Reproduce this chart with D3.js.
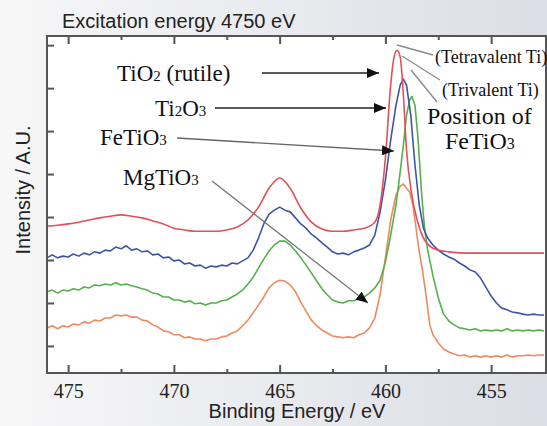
<!DOCTYPE html>
<html>
<head>
<meta charset="utf-8">
<script src="https://cdn.jsdelivr.net/npm/d3@7"></script>
<style>
  html, body { margin: 0; padding: 0; background: #eceef2; }
  svg { display: block; }
</style>
</head>
<body>
<div id="chart"></div>
<script>
// tick values
const xMajorTicks = [475, 470, 465, 460, 455];
const xMinorTicks = [472.5, 467.5, 462.5, 457.5];
const yTicks = [0, 1, 2, 3, 4, 5, 6, 7];

// spectra: [binding energy (eV), intensity (A.U.)]
const tio2 = [[476,2.79],[475.5,2.81],[475,2.84],[474.5,2.88],[474,2.93],[473.5,2.98],[473,3.02],[472.5,3.05],[472,3.02],[471.5,2.98],[471,2.91],[470.5,2.84],[470,2.74],[469.5,2.70],[469,2.67],[468.5,2.67],[468,2.67],[467.5,2.70],[467,2.77],[466.5,2.93],[466,3.23],[465.5,3.67],[465,3.91],[464.5,3.67],[464,3.21],[463.5,2.88],[463,2.72],[462.5,2.67],[462,2.67],[461.5,2.70],[461,2.74],[460.5,2.88],[460.25,3.28],[460,4.37],[459.75,6.07],[459.6,6.70],[459.45,6.88],[459.3,6.72],[459.15,5.84],[459,4.56],[458.75,3.51],[458.5,2.93],[458.25,2.56],[458,2.37],[457.5,2.23],[457,2.19],[456,2.16],[455,2.16],[454,2.16],[453,2.16],[452.5,2.16]];

const ti2o3 = [[476,2.05],[475.75,2.12],[475.5,2.05],[475.25,2.09],[475,2.07],[474.75,2.14],[474.5,2.09],[474.25,2.16],[474,2.12],[473.75,2.19],[473.5,2.16],[473.25,2.23],[473,2.21],[472.75,2.30],[472.5,2.26],[472.25,2.33],[472,2.23],[471.75,2.26],[471.5,2.19],[471.25,2.21],[471,2.12],[470.75,2.14],[470.5,2.05],[470.25,2.07],[470,1.98],[469.75,2.00],[469.5,1.91],[469.25,1.93],[469,1.86],[468.75,1.88],[468.5,1.81],[468.25,1.86],[468,1.84],[467.75,1.88],[467.5,1.86],[467.25,1.93],[467,1.91],[466.75,1.98],[466.5,2.05],[466.25,2.23],[466,2.51],[465.75,2.84],[465.5,3.07],[465.25,3.16],[465,3.23],[464.75,3.16],[464.5,3.12],[464.25,2.98],[464,2.84],[463.75,2.74],[463.5,2.60],[463.25,2.51],[463,2.40],[462.75,2.30],[462.5,2.19],[462.25,2.14],[462,2.16],[461.75,2.12],[461.5,2.19],[461.25,2.23],[461,2.28],[460.75,2.35],[460.5,2.58],[460.25,3.12],[460,3.86],[459.75,4.79],[459.5,5.60],[459.3,6.07],[459.15,6.21],[459,6.07],[458.8,5.37],[458.6,4.21],[458.4,3.28],[458.2,2.74],[458,2.51],[457.75,2.35],[457.5,2.23],[457.25,2.14],[457,2.07],[456.75,2.02],[456.5,1.93],[456.25,1.86],[456,1.77],[455.75,1.72],[455.5,1.58],[455.25,1.37],[455,1.16],[454.75,1.00],[454.5,0.88],[454.25,0.84],[454,0.79],[453.75,0.77],[453.5,0.74],[453.25,0.72],[453,0.74],[452.75,0.72],[452.5,0.72]];

const fetio3 = [[476,1.26],[475.75,1.30],[475.5,1.23],[475.25,1.30],[475,1.28],[474.75,1.33],[474.5,1.30],[474.25,1.37],[474,1.35],[473.75,1.42],[473.5,1.40],[473.25,1.44],[473,1.42],[472.75,1.47],[472.5,1.42],[472.25,1.44],[472,1.40],[471.75,1.37],[471.5,1.33],[471.25,1.30],[471,1.23],[470.75,1.21],[470.5,1.14],[470.25,1.14],[470,1.07],[469.75,1.07],[469.5,1.02],[469.25,1.05],[469,0.98],[468.75,1.00],[468.5,0.95],[468.25,1.00],[468,1.00],[467.75,1.05],[467.5,1.07],[467.25,1.14],[467,1.21],[466.75,1.30],[466.5,1.44],[466.25,1.60],[466,1.81],[465.75,2.02],[465.5,2.21],[465.25,2.35],[465,2.44],[464.75,2.44],[464.5,2.35],[464.25,2.21],[464,2.05],[463.75,1.88],[463.5,1.70],[463.25,1.51],[463,1.33],[462.75,1.19],[462.5,1.07],[462.25,1.02],[462,1.00],[461.75,1.05],[461.5,1.05],[461.25,1.09],[461,1.14],[460.75,1.23],[460.5,1.35],[460.25,1.53],[460,1.95],[459.75,2.58],[459.5,3.28],[459.3,4.05],[459.15,4.67],[459,5.37],[458.85,5.72],[458.75,5.81],[458.6,5.60],[458.45,4.79],[458.3,3.63],[458.15,2.74],[458,2.23],[457.75,1.63],[457.5,1.12],[457.25,0.74],[457,0.58],[456.75,0.49],[456.5,0.42],[456.25,0.40],[456,0.37],[455.75,0.40],[455.5,0.35],[455.25,0.37],[455,0.35],[454.75,0.37],[454.5,0.35],[454.25,0.40],[454,0.35],[453.75,0.37],[453.5,0.35],[453.25,0.37],[453,0.35],[452.75,0.37],[452.5,0.35]];

const mgtio3 = [[476,0.42],[475.75,0.47],[475.5,0.40],[475.25,0.47],[475,0.44],[474.75,0.51],[474.5,0.49],[474.25,0.56],[474,0.53],[473.75,0.60],[473.5,0.58],[473.25,0.65],[473,0.65],[472.75,0.72],[472.5,0.70],[472.25,0.72],[472,0.67],[471.75,0.67],[471.5,0.60],[471.25,0.58],[471,0.49],[470.75,0.44],[470.5,0.35],[470.25,0.33],[470,0.26],[469.75,0.26],[469.5,0.19],[469.25,0.21],[469,0.16],[468.75,0.16],[468.5,0.12],[468.25,0.16],[468,0.16],[467.75,0.21],[467.5,0.23],[467.25,0.30],[467,0.35],[466.75,0.47],[466.5,0.60],[466.25,0.77],[466,0.95],[465.75,1.14],[465.5,1.35],[465.25,1.47],[465,1.53],[464.75,1.51],[464.5,1.42],[464.25,1.26],[464,1.02],[463.75,0.81],[463.5,0.60],[463.25,0.47],[463,0.37],[462.75,0.30],[462.5,0.23],[462.25,0.21],[462,0.19],[461.75,0.21],[461.5,0.19],[461.25,0.26],[461,0.30],[460.75,0.42],[460.5,0.65],[460.25,1.19],[460,2.05],[459.75,2.93],[459.5,3.51],[459.3,3.72],[459.15,3.77],[459,3.67],[458.85,3.58],[458.7,3.28],[458.55,2.74],[458.4,2.19],[458.25,1.77],[458.1,1.26],[457.9,0.49],[457.75,0.26],[457.5,0.07],[457.25,-0.07],[457,-0.14],[456.75,-0.19],[456.5,-0.23],[456.25,-0.21],[456,-0.26],[455.75,-0.23],[455.5,-0.26],[455.25,-0.23],[455,-0.26],[454.75,-0.23],[454.5,-0.26],[454.25,-0.21],[454,-0.26],[453.75,-0.23],[453.5,-0.23],[453.25,-0.21],[453,-0.23],[452.75,-0.21],[452.5,-0.21]];

const series = [
    { name: 'MgTiO3', data: mgtio3, color: '#ee8a62' },
    { name: 'FeTiO3', data: fetio3, color: '#55b04b' },
    { name: 'Ti2O3', data: ti2o3, color: '#3f55a3' },
    { name: 'TiO2', data: tio2, color: '#e44f5a' }
];

const width = 547;
const height = 426;
const plot = { left: 47, right: 546, top: 36, bottom: 373 };
const sans = '"Liberation Sans", Arial, sans-serif';
const serif = '"Liberation Serif", "Times New Roman", serif';

const svg = d3.select('#chart')
    .append('svg')
    .attr('width', width)
    .attr('height', height);

const defs = svg.append('defs');
const bg = defs.append('linearGradient').attr('id', 'bg').attr('x1', 0).attr('x2', 1).attr('y1', 0).attr('y2', 0);
bg.append('stop').attr('offset', '0%').attr('stop-color', '#f7f7f8');
bg.append('stop').attr('offset', '100%').attr('stop-color', '#dcdee5');

defs.append('marker')
    .attr('id', 'arrow')
    .attr('viewBox', '0 0 12 10')
    .attr('refX', 12).attr('refY', 5)
    .attr('markerWidth', 12).attr('markerHeight', 10)
    .attr('markerUnits', 'userSpaceOnUse')
    .attr('orient', 'auto')
    .append('path')
    .attr('d', 'M0,0 L12,5 L0,10 Z')
    .attr('fill', '#111');

defs.append('clipPath').attr('id', 'clip')
    .append('rect')
    .attr('x', plot.left).attr('y', plot.top)
    .attr('width', plot.right - plot.left).attr('height', plot.bottom - plot.top);

svg.append('rect').attr('width', width).attr('height', height).attr('fill', 'url(#bg)');
svg.append('rect')
    .attr('x', plot.left).attr('y', plot.top)
    .attr('width', plot.right - plot.left).attr('height', plot.bottom - plot.top)
    .attr('fill', '#fff');

const x = d3.scaleLinear().domain([476, 452.5]).range([plot.left, 544]);
const y = d3.scaleLinear().domain([-0.63, 7.19]).range([plot.bottom, 37]);

// spectra
const line = d3.line().x(d => x(d[0])).y(d => y(d[1]));
svg.append('g')
    .attr('clip-path', 'url(#clip)')
    .selectAll('path')
    .data(series)
    .join('path')
    .attr('d', d => line.curve(d.name === 'TiO2' ? d3.curveMonotoneX : d3.curveLinear)(d.data))
    .attr('fill', 'none')
    .attr('stroke', d => d.color)
    .attr('stroke-width', 1.6)
    .attr('stroke-linejoin', 'round');

// axes (ticks pointing inward)
function styleAxis(g) {
    g.select('.domain').remove();
    g.selectAll('.tick line').attr('stroke', '#555').attr('stroke-width', 2);
}

svg.append('g')
    .attr('transform', `translate(0, ${plot.bottom})`)
    .call(d3.axisBottom(x).tickValues(xMajorTicks).tickSizeInner(-8).tickPadding(11).tickFormat(d3.format('d')))
    .attr('font-family', serif)
    .attr('font-size', 20)
    .call(styleAxis)
    .call(g => g.selectAll('text').attr('fill', '#222'));

svg.append('g')
    .attr('transform', `translate(0, ${plot.bottom})`)
    .call(d3.axisBottom(x).tickValues(xMinorTicks).tickSize(-4).tickFormat(''))
    .call(styleAxis);

svg.append('g')
    .attr('transform', `translate(0, ${plot.top})`)
    .call(d3.axisTop(x).tickValues(xMajorTicks).tickSize(-8).tickFormat(''))
    .call(styleAxis);

svg.append('g')
    .attr('transform', `translate(0, ${plot.top})`)
    .call(d3.axisTop(x).tickValues(xMinorTicks).tickSize(-4).tickFormat(''))
    .call(styleAxis);

svg.append('g')
    .attr('transform', `translate(${plot.left}, 0)`)
    .call(d3.axisLeft(y).tickValues(yTicks).tickSize(-7).tickFormat(''))
    .call(styleAxis);

svg.append('rect')
    .attr('x', plot.left).attr('y', plot.top)
    .attr('width', plot.right - plot.left).attr('height', plot.bottom - plot.top)
    .attr('fill', 'none')
    .attr('stroke', '#555')
    .attr('stroke-width', 2);

// titles
svg.append('text')
    .attr('x', 62).attr('y', 28)
    .style('font-family', sans).style('font-size', '20px')
    .attr('fill', '#222')
    .text('Excitation energy 4750 eV');

svg.append('text')
    .attr('text-anchor', 'middle')
    .attr('x', 297).attr('y', 418)
    .style('font-family', sans).style('font-size', '20px')
    .attr('fill', '#222')
    .text('Binding Energy / eV');

svg.append('text')
    .attr('text-anchor', 'middle')
    .attr('transform', 'translate(30, 190) rotate(-90)')
    .style('font-family', sans).style('font-size', '20px')
    .attr('fill', '#222')
    .text('Intensity / A.U.');

// annotations
function label(parts, px, py, size) {
    const t = svg.append('text')
        .attr('x', px).attr('y', py)
        .style('font-family', serif).style('font-size', size + 'px')
        .attr('fill', '#111');
    parts.forEach(p => {
        const s = t.append('tspan').text(p[0]);
        if (p[1]) s.style('font-size', Math.round(size * 0.66) + 'px');
    });
}

label([['TiO'], ['2', 1], [' (rutile)']], 117, 81, 23);
label([['Ti'], ['2', 1], ['O'], ['3', 1]], 155, 116, 23);
label([['FeTiO'], ['3', 1]], 100, 145, 23);
label([['MgTiO'], ['3', 1]], 123, 185, 23);
label([['Position of']], 427, 124, 24);
label([['FeTiO'], ['3', 1]], 445, 149, 24);
label([['(Tetravalent Ti)']], 435, 63, 18);
label([['(Trivalent Ti)']], 442, 96, 18);

const arrows = [
    { x1: 262, y1: 73, x2: 379, y2: 73, color: '#222' },
    { x1: 215, y1: 108, x2: 386, y2: 108, color: '#222' },
    { x1: 177, y1: 138, x2: 394, y2: 151, color: '#666' },
    { x1: 212, y1: 181, x2: 368, y2: 303, color: '#777' }
];
svg.append('g').selectAll('line')
    .data(arrows)
    .join('line')
    .attr('x1', d => d.x1).attr('y1', d => d.y1)
    .attr('x2', d => d.x2).attr('y2', d => d.y2)
    .attr('stroke', d => d.color)
    .attr('stroke-width', 1.3)
    .attr('marker-end', 'url(#arrow)');

const leaders = [
    { x1: 397, y1: 45, x2: 433, y2: 55 },
    { x1: 402, y1: 56, x2: 440, y2: 80 },
    { x1: 411, y1: 70, x2: 437, y2: 102 }
];
svg.append('g').selectAll('line')
    .data(leaders)
    .join('line')
    .attr('x1', d => d.x1).attr('y1', d => d.y1)
    .attr('x2', d => d.x2).attr('y2', d => d.y2)
    .attr('stroke', '#8a8a8a')
    .attr('stroke-width', 1.3);
</script>
</body>
</html>
